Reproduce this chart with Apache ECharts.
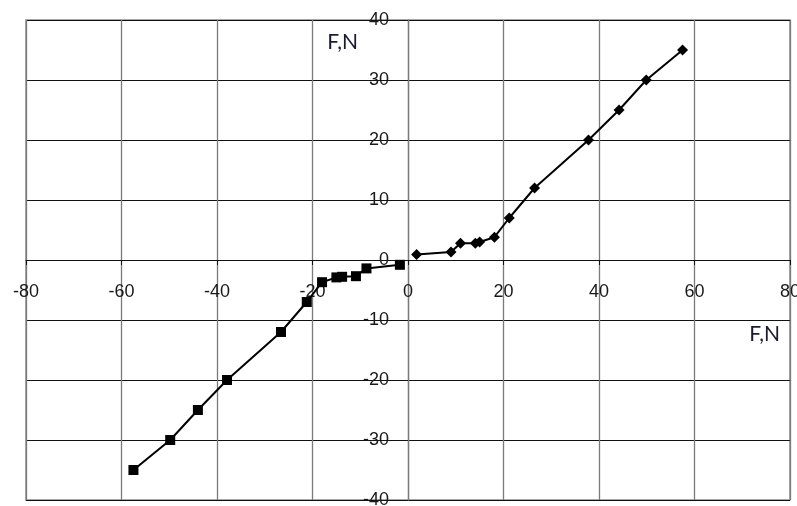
<!DOCTYPE html>
<html>
<head>
<meta charset="utf-8">
<script src="https://cdn.jsdelivr.net/npm/echarts@6/dist/echarts.min.js"></script>
<style>html,body{margin:0;padding:0;background:#fff;}#c{width:797px;height:506px;}</style>
</head>
<body>
<div id="c"></div>
<script>
var posX = [1.8, 9.0, 11.0, 14.1, 15.0, 18.1, 21.2, 26.5, 37.8, 44.2, 49.9, 57.5];
var posY = [0.9, 1.35, 2.8, 2.8, 3.0, 3.8, 7.0, 12.0, 20.0, 25.0, 30.0, 35.0];
var negX = [-1.7, -8.7, -10.9, -13.8, -15.0, -18.0, -21.2, -26.6, -37.9, -44.0, -49.8, -57.5];
var negY = [-0.8, -1.4, -2.7, -2.8, -2.9, -3.7, -7.0, -12.0, -20.0, -25.0, -30.0, -35.0];
var xTicks = [-80, -60, -40, -20, 0, 20, 40, 60, 80];
var yTicks = [-40, -30, -20, -10, 0, 10, 20, 30, 40];
var axisName = 'F,N';

function pairs(xs, ys) { return xs.map(function (x, i) { return [x, ys[i]]; }); }

var chart = echarts.init(document.getElementById('c'), null, { renderer: 'canvas' });
var labelFont = { fontFamily: 'Liberation Sans, Arial, sans-serif', fontSize: 18, color: '#1a1a1a' };
var gridOpt = { left: 26, right: 7, top: 20, bottom: 6, show: true, borderColor: '#8c8c8c', borderWidth: 1.5, containLabel: false, outerBoundsMode: 'none' };
chart.setOption({
  animation: false,
  backgroundColor: '#fff',
  grid: gridOpt,
  xAxis: {
    type: 'value', min: xTicks[0], max: xTicks[xTicks.length - 1], interval: 20,
    axisLine: { onZero: false, lineStyle: { color: '#111', width: 1 } },
    axisTick: { show: true, length: 5, lineStyle: { color: '#111' } },
    axisLabel: Object.assign({ margin: 23 }, labelFont),
    splitLine: { show: true, lineStyle: { color: '#7a7a7a', width: 1.3 } },
    name: axisName, nameLocation: 'end', nameGap: -10,
    nameTextStyle: { fontFamily: 'Lato, Open Sans, sans-serif', fontSize: 21, color: '#1a1a33', align: 'right', verticalAlign: 'top', padding: [64, 0, 0, 0] }
  },
  yAxis: {
    type: 'value', min: yTicks[0], max: yTicks[yTicks.length - 1], interval: 10,
    axisLine: { onZero: false, lineStyle: { color: '#7a7a7a', width: 1.3 } },
    axisTick: { show: true, length: 5, lineStyle: { color: '#111' } },
    axisLabel: Object.assign({ margin: 19 }, labelFont),
    splitLine: { show: true, lineStyle: { color: '#111', width: 1 } },
    name: axisName, nameLocation: 'end', nameGap: -33,
    nameTextStyle: { fontFamily: 'Lato, Open Sans, sans-serif', fontSize: 21, color: '#1a1a33', align: 'right', verticalAlign: 'bottom', padding: [0, 50, 0, 0] }
  },
  series: [
    {
      type: 'line', data: pairs(posX, posY), symbol: 'diamond', symbolSize: 11,
      lineStyle: { color: '#000', width: 2 }, itemStyle: { color: '#000' }
    },
    {
      type: 'line', data: pairs(negX, negY), symbol: 'rect', symbolSize: 10,
      lineStyle: { color: '#000', width: 2 }, itemStyle: { color: '#000' }
    }
  ]
});
// place axes through the origin, using the chart's own scale
var origin = chart.convertToPixel({ gridIndex: 0 }, [0, 0]);
var W = chart.getWidth(), H = chart.getHeight();
var bottomEdge = H - gridOpt.bottom;
chart.setOption({
  xAxis: { offset: origin[1] - bottomEdge },
  yAxis: { offset: gridOpt.left - origin[0] }
});
</script>
</body>
</html>
